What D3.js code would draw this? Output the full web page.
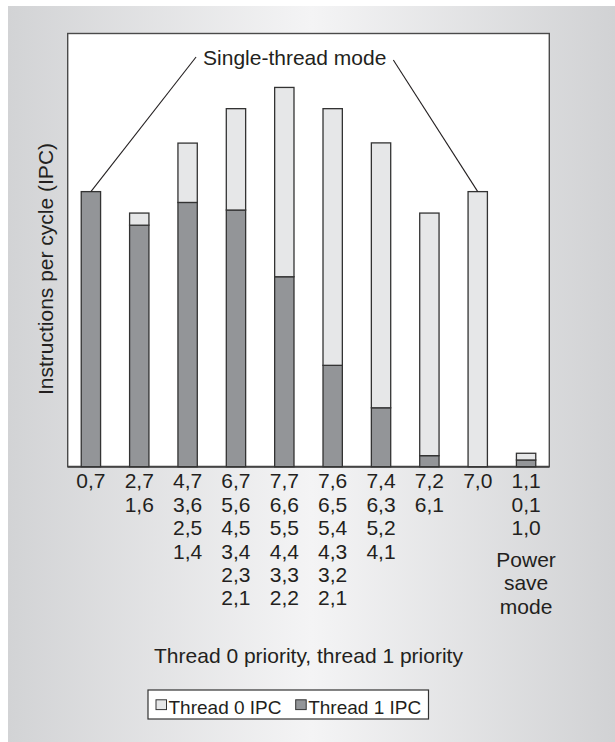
<!DOCTYPE html>
<html>
<head>
<meta charset="utf-8">
<script src="https://cdn.jsdelivr.net/npm/d3@7"></script>
<style>
  html, body { margin: 0; padding: 0; background: #fff; }
  svg text { font-family: "Liberation Sans", Arial, Helvetica, sans-serif; fill: #231f20; }
</style>
</head>
<body>
<div id="vis"></div>
<script>
// priority pairs under each bar
const groups = [
  ['0,7'],
  ['2,7', '1,6'],
  ['4,7', '3,6', '2,5', '1,4'],
  ['6,7', '5,6', '4,5', '3,4', '2,3', '2,1'],
  ['7,7', '6,6', '5,5', '4,4', '3,3', '2,2'],
  ['7,6', '6,5', '5,4', '4,3', '3,2', '2,1'],
  ['7,4', '6,3', '5,2', '4,1'],
  ['7,2', '6,1'],
  ['7,0'],
  ['1,1', '0,1', '1,0']
];
const categories = groups.map(g => g[0]);
// IPC (no axis ticks, relative units)
const thread1IPC = [1.27, 1.115, 1.22, 1.185, 0.877, 0.468, 0.272, 0.051, 0, 0.031];
const thread0IPC = [0, 0.056, 0.274, 0.468, 0.874, 1.185, 1.223, 1.12, 1.27, 0.031];
const seriesNames = ['Thread 0 IPC', 'Thread 1 IPC'];
const powerNote = ['Power', 'save', 'mode'];

const W = 615, H = 742;
const margin = { top: 33.5, right: 65.7, bottom: 275.3, left: 67.7 };

const svg = d3.select('#vis').append('svg')
  .attr('width', W)
  .attr('height', H);

// background panel
const grad = svg.append('defs').append('linearGradient')
  .attr('id', 'bg')
  .attr('x1', '0%').attr('x2', '100%').attr('y1', '0%').attr('y2', '0%');
grad.append('stop').attr('offset', '0%').attr('stop-color', '#d2d3d5');
grad.append('stop').attr('offset', '50%').attr('stop-color', '#f4f4f5');
grad.append('stop').attr('offset', '100%').attr('stop-color', '#d1d2d4');

svg.append('rect')
  .attr('x', 8).attr('y', 6)
  .attr('width', W - 8).attr('height', H - 6)
  .attr('fill', 'url(#bg)');

const x0 = margin.left, x1 = W - margin.right;
const y0 = H - margin.bottom, y1 = margin.top;

const x = d3.scaleBand()
  .domain(categories)
  .range([x0, x1])
  .paddingInner(0.6)
  .paddingOuter(0.28);

const y = d3.scaleLinear()
  .domain([0, 2])
  .range([y0, y1]);

// plot frame
svg.append('rect')
  .attr('x', x0).attr('y', y1)
  .attr('width', x1 - x0).attr('height', y0 - y1)
  .attr('fill', '#fff')
  .attr('stroke', '#4a4a4a')
  .attr('stroke-width', 1.4);

svg.append('line')
  .attr('x1', x0).attr('x2', x1)
  .attr('y1', y0).attr('y2', y0)
  .attr('stroke', '#444')
  .attr('stroke-width', 2);

// stacked bars: thread 1 at the bottom, thread 0 on top
const rows = categories.map((c, i) => ({ cat: c, t1: thread1IPC[i], t0: thread0IPC[i] }));
const stack = d3.stack().keys(['t1', 't0']);
const layers = stack(rows);
const colour = { t1: '#939598', t0: '#e6e7e8' };

svg.append('g')
  .selectAll('g')
  .data(layers)
  .join('g')
  .attr('fill', d => colour[d.key])
  .selectAll('rect')
  .data(d => d.filter(s => s[1] - s[0] > 0))
  .join('rect')
  .attr('x', d => x(d.data.cat))
  .attr('width', x.bandwidth())
  .attr('y', d => y(d[1]))
  .attr('height', d => y(d[0]) - y(d[1]))
  .attr('stroke', '#333')
  .attr('stroke-width', 1.3);

// category labels
const lineH = 23.4;
const labels = svg.append('g')
  .attr('font-size', 21)
  .attr('text-anchor', 'middle');

groups.forEach((g, i) => {
  labels.selectAll(null)
    .data(g)
    .join('text')
    .attr('x', x(categories[i]) + x.bandwidth() / 2)
    .attr('y', (d, j) => 488.3 + j * lineH)
    .text(d => d);
});

labels.selectAll(null)
  .data(powerNote)
  .join('text')
  .attr('x', x(categories[categories.length - 1]) + x.bandwidth() / 2)
  .attr('y', (d, j) => 566.8 + j * lineH)
  .text(d => d);

// axis titles
svg.append('text')
  .attr('font-size', 21)
  .attr('text-anchor', 'middle')
  .attr('x', (x0 + x1) / 2)
  .attr('y', 663)
  .text('Thread 0 priority, thread 1 priority');

svg.append('text')
  .attr('font-size', 21)
  .attr('text-anchor', 'middle')
  .attr('transform', 'translate(53, 269) rotate(-90)')
  .text('Instructions per cycle (IPC)');

// single-thread annotation
const note = svg.append('text')
  .attr('font-size', 21)
  .attr('text-anchor', 'middle')
  .attr('x', 294.7)
  .attr('y', 65)
  .text('Single-thread mode');
const half = note.node().getComputedTextLength() / 2;

const callouts = [
  { cat: '0,7', px: 294.7 - half - 7, py: 57 },
  { cat: '7,0', px: 294.7 + half + 7, py: 60 }
];
svg.append('g')
  .selectAll('line')
  .data(callouts)
  .join('line')
  .attr('x1', d => d.px)
  .attr('y1', d => d.py)
  .attr('x2', d => x(d.cat) + x.bandwidth() / 2)
  .attr('y2', d => {
    const i = categories.indexOf(d.cat);
    return y(thread0IPC[i] + thread1IPC[i]);
  })
  .attr('stroke', '#231f20')
  .attr('stroke-width', 1.1);

// legend
const legend = svg.append('g');
legend.append('rect')
  .attr('x', 148).attr('y', 690)
  .attr('width', 280.5).attr('height', 29)
  .attr('fill', '#fff')
  .attr('stroke', '#333')
  .attr('stroke-width', 1.2);

const items = legend.selectAll('g')
  .data(seriesNames)
  .join('g')
  .attr('transform', (d, i) => `translate(${156 + i * 139.7}, 0)`);

items.append('rect')
  .attr('x', 0).attr('y', 699.8)
  .attr('width', 10.5).attr('height', 9.8)
  .attr('fill', (d, i) => i === 0 ? colour.t0 : colour.t1)
  .attr('stroke', '#333')
  .attr('stroke-width', 1);

items.append('text')
  .attr('x', 12.5)
  .attr('y', 713.5)
  .attr('font-size', 19)
  .text(d => d);
</script>
</body>
</html>
